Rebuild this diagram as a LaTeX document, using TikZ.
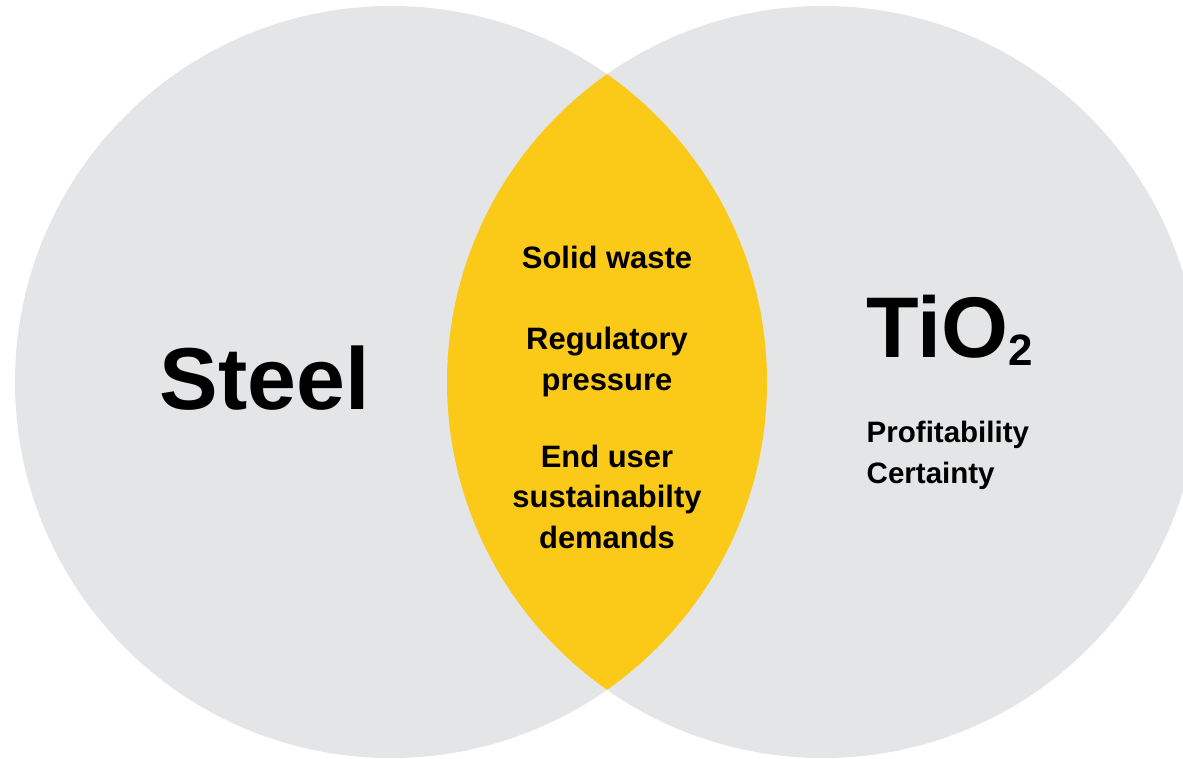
\documentclass[tikz,border=0pt]{standalone}
\usepackage{fontspec}
\setmainfont{Liberation Sans}
\usetikzlibrary{positioning}
\definecolor{cgrey}{RGB}{228,229,230}
\definecolor{cyellow}{RGB}{251,201,24}

\begin{document}
\begin{tikzpicture}[scale=1,
        big/.style={font=\fontsize{25}{30}\selectfont\bfseries, inner sep=0pt},
        small/.style={font=\fontsize{8.8}{11.4}\selectfont\bfseries, inner sep=0pt, align=center}]
        \useasboundingbox (0,0) rectangle (11.83,7.58);
        \clip (0,0) rectangle (11.83,7.58);
        %圆心
        \coordinate (steelc) at (3.91,3.76);
        \coordinate (tioc) at (8.23,3.76);
        %两个圆
        \fill [cgrey] (steelc) circle (3.76);
        \fill [cgrey] (tioc) circle (3.76);
        %交集
        \begin{scope}
            \clip (steelc) circle (3.76);
            \fill [cyellow] (tioc) circle (3.76);
        \end{scope}
        %标签
        \node [big] (steel) at (2.65,3.80) {Steel};
        \node [big, font=\fontsize{24.5}{30}\selectfont\bfseries, anchor=base west] (tio) at (8.66,4.01) {TiO\raisebox{-2.3pt}{\fontsize{12.5}{13}\selectfont 2}};
        \node [small, font=\fontsize{8.4}{11.4}\selectfont\bfseries, anchor=base west, align=left] (gain) at (8.66,2.75) {Profitability\\Certainty};
        %交集内文字 (锚点为末行基线)
        \node [small, anchor=base] (waste) at (6.07,4.90) {Solid waste};
        \node [small, anchor=base] (rules) at (6.07,3.68) {Regulatory\\pressure};
        \node [small, anchor=base] (demand) at (6.07,2.10) {End user\\sustainabilty\\demands};
    \end{tikzpicture}
\end{document}
